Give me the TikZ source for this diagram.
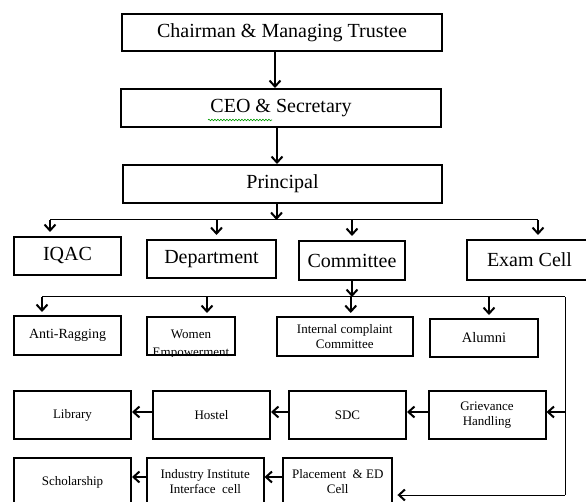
\documentclass[tikz,border=0pt]{standalone}
\usepackage{fontspec}
\setmainfont{Liberation Serif}
\usetikzlibrary{arrows.meta, decorations.pathmorphing}

\begin{document}
\begin{tikzpicture}[x=1pt, y=-1pt, >={Straight Barb[length=6pt, width=11pt, line width=2pt]},
        box/.style={draw, line width=2pt, inner sep=0pt, align=center},
        big/.style={font=\fontsize{20}{22}\selectfont},
        small/.style={font=\fontsize{13}{15}\selectfont},
        arr/.style={->, line width=2pt},
        bus/.style={line width=1pt}]
    \useasboundingbox (0,0) rectangle (586,502);

    % top of the chart
    \node[box, big, minimum width=320pt, minimum height=37pt] (chair) at (282,32.5) {Chairman \& Managing Trustee};
    \node[box, big, minimum width=320pt, minimum height=38pt] (ceo) at (281,108) {CEO \& Secretary};
    \node[box, big, minimum width=319pt, minimum height=38pt] (prin) at (282.5,184) {Principal};
    \draw[green!60!black, line width=0.6pt, decorate, decoration={snake, amplitude=0.8pt, segment length=3pt}]
        (208,120) -- (272,120);
    \draw[arr] ([xshift=-7pt]chair.south) -- ([xshift=-7pt]chair.south |- ceo.north);
    \draw[arr] ([xshift=-4pt]ceo.south) -- ([xshift=-4pt]ceo.south |- prin.north);

    % second level
    \node[box, big, minimum width=107pt, minimum height=38pt] (iqac) at (67.5,256) {IQAC};
    \node[box, big, minimum width=129pt, minimum height=38pt] (dept) at (211.5,259) {Department};
    \node[box, big, minimum width=106pt, minimum height=39pt] (comm) at (352,260.5) {Committee};
    \node[box, big, minimum width=125pt, minimum height=40pt] (exam) at (529.5,260) {Exam Cell};
    \coordinate (busL) at (50,220);
    \coordinate (busR) at (538,220);
    \draw[bus] (busL) -- (busR);
    \draw[arr] ([xshift=-6pt]prin.south) -- ([xshift=-6pt]prin.south |- busL);
    \draw[arr, shorten >=4pt] (busL) -- (busL |- iqac.north);
    \draw[arr, shorten >=4pt] ([xshift=5pt]dept.north |- busL) -- ([xshift=5pt]dept.north);
    \draw[arr, shorten >=4pt] (comm.north |- busL) -- (comm.north);
    \draw[arr, shorten >=4pt] (busR) -- (busR |- exam.north);

    % committees
    \node[box, small, font=\fontsize{14}{16}\selectfont, minimum width=107pt, minimum height=39pt] (anti) at (67.5,335.5) {Anti-Ragging};
    \node[box, minimum width=88pt, minimum height=38pt] (wom) at (191,336) {};
    \begin{scope}
        \clip (wom.south west) rectangle (wom.north east);
        \node[font=\fontsize{13}{18}\selectfont, align=center] (womtxt) at (191,345) {Women\\Empowerment};
    \end{scope}
    \node[box, small, minimum width=136.5pt, minimum height=39pt] (icc) at (344.75,336.5) {Internal complaint\\Committee};
    \node[box, small, font=\fontsize{14.5}{16}\selectfont, minimum width=108pt, minimum height=38pt] (alum) at (484,338) {Alumni};
    \coordinate (cbusL) at (42,297);
    \coordinate (cbusR) at (565,297);
    \draw[bus] (cbusL) -- (cbusR);
    \draw[arr] (comm.south) -- (comm.south |- cbusL);
    \draw[arr, shorten >=3pt] (cbusL) -- (cbusL |- anti.north);
    \draw[arr, shorten >=3pt] ([xshift=16pt]wom.north |- cbusL) -- ([xshift=16pt]wom.north);
    \draw[arr, shorten >=3pt] ([xshift=6pt]icc.north |- cbusL) -- ([xshift=6pt]icc.north);
    \draw[arr, shorten >=3pt] ([xshift=5pt]alum.north |- cbusL) -- ([xshift=5pt]alum.north);

    % third row
    \node[box, small, minimum width=117pt, minimum height=48pt] (lib) at (72.5,415) {Library};
    \node[box, small, minimum width=117pt, minimum height=48pt] (hostel) at (211.5,415) {Hostel};
    \node[box, small, minimum width=117pt, minimum height=48pt] (sdc) at (347.5,415) {SDC};
    \node[box, small, minimum width=117pt, minimum height=48pt] (griev) at (487,415) {Grievance\\Handling};
    \draw[bus] (cbusR) -- (cbusR |- griev.east);
    \draw[arr] ([yshift=3pt]cbusR |- griev.east) -- ([yshift=3pt]griev.east);
    \draw[arr] ([yshift=3pt]griev.west) -- ([yshift=3pt]sdc.east);
    \draw[arr] ([yshift=3pt]sdc.west) -- ([yshift=3pt]hostel.east);
    \draw[arr] ([yshift=3pt]hostel.west) -- ([yshift=3pt]lib.east);

    % last row
    \node[box, small, minimum width=117pt, minimum height=48pt] (schol) at (72.5,482) {Scholarship};
    \node[box, small, minimum width=116.5pt, minimum height=48pt] (iiic) at (205.25,482) {Industry Institute\\Interface\ \ cell};
    \node[box, small, minimum width=109.5pt, minimum height=48pt] (place) at (337.7,482) {Placement \ \& ED\\Cell};
    \coordinate (turn) at (565,495);
    \draw[bus] (cbusR |- griev.east) -- (turn);
    \draw[bus, ->, shorten >=4pt] (turn) -- (turn -| place.east);
    \draw[arr] ([yshift=5pt]place.west) -- ([yshift=5pt]iiic.east);
    \draw[arr] ([yshift=5pt]iiic.west) -- ([yshift=5pt]schol.east);
\end{tikzpicture}
\end{document}
